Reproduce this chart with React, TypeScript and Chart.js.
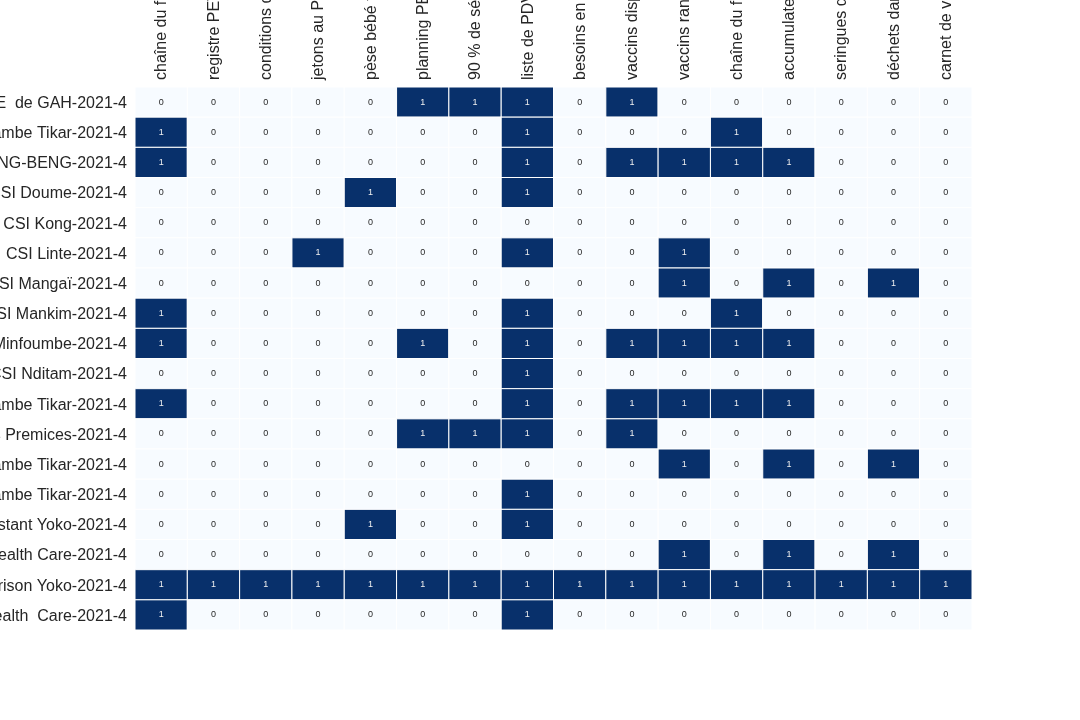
import React, { useEffect, useRef } from "react";
import { Chart, registerables } from "chart.js";

Chart.register(...registerables);

const columns: string[] = [
  "chaîne du froid fonctionnelle",
  "registre PEV à jour",
  "conditions de stockage respectées",
  "jetons au PEV disponibles",
  "pèse bébé fonctionnel",
  "planning PEV affiché",
  "90 % de séances réalisées",
  "liste de PDV disponible",
  "besoins en vaccins estimés",
  "vaccins disponibles",
  "vaccins rangés correctement",
  "chaîne du froid monitorée",
  "accumulateurs congelés",
  "seringues disponibles",
  "déchets dans boîtes de sécurité",
  "carnet de vaccination disponible",
];

const rows: string[] = [
  "CSI EPE  de GAH-2021-4",
  "CMA Ngambe Tikar-2021-4",
  "CSI BENG-BENG-2021-4",
  "CSI Doume-2021-4",
  "CSI Kong-2021-4",
  "CSI Linte-2021-4",
  "CSI Mangaï-2021-4",
  "CSI Mankim-2021-4",
  "CSI Minfoumbe-2021-4",
  "CSI Nditam-2021-4",
  "CSI Catholique Ngambe Tikar-2021-4",
  "CSI Les Premices-2021-4",
  "HD Ngambe Tikar-2021-4",
  "CSI Urbain Ngambe Tikar-2021-4",
  "CSI Protestant Yoko-2021-4",
  "CSI Health Care-2021-4",
  "Infirmerie Prison Yoko-2021-4",
  "CSI Health  Care-2021-4",
];

const values: number[][] = [
  [0, 0, 0, 0, 0, 1, 1, 1, 0, 1, 0, 0, 0, 0, 0, 0],
  [1, 0, 0, 0, 0, 0, 0, 1, 0, 0, 0, 1, 0, 0, 0, 0],
  [1, 0, 0, 0, 0, 0, 0, 1, 0, 1, 1, 1, 1, 0, 0, 0],
  [0, 0, 0, 0, 1, 0, 0, 1, 0, 0, 0, 0, 0, 0, 0, 0],
  [0, 0, 0, 0, 0, 0, 0, 0, 0, 0, 0, 0, 0, 0, 0, 0],
  [0, 0, 0, 1, 0, 0, 0, 1, 0, 0, 1, 0, 0, 0, 0, 0],
  [0, 0, 0, 0, 0, 0, 0, 0, 0, 0, 1, 0, 1, 0, 1, 0],
  [1, 0, 0, 0, 0, 0, 0, 1, 0, 0, 0, 1, 0, 0, 0, 0],
  [1, 0, 0, 0, 0, 1, 0, 1, 0, 1, 1, 1, 1, 0, 0, 0],
  [0, 0, 0, 0, 0, 0, 0, 1, 0, 0, 0, 0, 0, 0, 0, 0],
  [1, 0, 0, 0, 0, 0, 0, 1, 0, 1, 1, 1, 1, 0, 0, 0],
  [0, 0, 0, 0, 0, 1, 1, 1, 0, 1, 0, 0, 0, 0, 0, 0],
  [0, 0, 0, 0, 0, 0, 0, 0, 0, 0, 1, 0, 1, 0, 1, 0],
  [0, 0, 0, 0, 0, 0, 0, 1, 0, 0, 0, 0, 0, 0, 0, 0],
  [0, 0, 0, 0, 1, 0, 0, 1, 0, 0, 0, 0, 0, 0, 0, 0],
  [0, 0, 0, 0, 0, 0, 0, 0, 0, 0, 1, 0, 1, 0, 1, 0],
  [1, 1, 1, 1, 1, 1, 1, 1, 1, 1, 1, 1, 1, 1, 1, 1],
  [1, 0, 0, 0, 0, 0, 0, 1, 0, 0, 0, 0, 0, 0, 0, 0],
];

const LOW = "#f7fbff";
const HIGH = "#08306b";

const heatmapPlugin = {
  id: "heatmapCells",
  beforeDatasetsDraw(chart: any) {
    const ctx = chart.ctx;
    const xs = chart.scales.x;
    const ys = chart.scales.y;
    const cw = xs.width / columns.length;
    const ch = ys.height / rows.length;
    const meta = chart.getDatasetMeta(0);
    const data = chart.data.datasets[0].data as any[];
    ctx.save();
    meta.data.forEach((el: any, i: number) => {
      const v = data[i].v;
      const x = el.x - cw / 2;
      const y = el.y - ch / 2;
      ctx.fillStyle = v >= 1 ? HIGH : LOW;
      ctx.fillRect(x, y, cw, ch);
      ctx.strokeStyle = "#ffffff";
      ctx.lineWidth = 1;
      ctx.strokeRect(x, y, cw, ch);
    });
    ctx.font = "9px 'Liberation Sans', Arial, sans-serif";
    ctx.textAlign = "center";
    ctx.textBaseline = "middle";
    meta.data.forEach((el: any, i: number) => {
      const v = data[i].v;
      ctx.fillStyle = v >= 1 ? "#f0f0f0" : "#262626";
      ctx.fillText(String(v), el.x, el.y);
    });
    ctx.restore();
  },
};

export default function App() {
  const ref = useRef<HTMLCanvasElement | null>(null);
  useEffect(() => {
    if (!ref.current) return;
    const points: any[] = [];
    rows.forEach((r, ri) => {
      columns.forEach((c, ci) => {
        points.push({ x: c, y: r, v: values[ri][ci] });
      });
    });
    const chart = new Chart(ref.current, {
      type: "scatter",
      data: {
        datasets: [
          {
            data: points,
            pointRadius: 0,
            pointHoverRadius: 0,
          } as any,
        ],
      },
      options: {
        animation: false,
        responsive: false,
        layout: { padding: { top: 0, left: 0, right: 108, bottom: 90 } },
        plugins: {
          legend: { display: false },
          tooltip: { enabled: false },
        },
        scales: {
          x: {
            type: "category",
            labels: columns,
            position: "top",
            offset: true,
            grid: { display: false, drawTicks: false },
            border: { display: false },
            ticks: {
              autoSkip: false,
              minRotation: 90,
              maxRotation: 90,
              padding: 7,
              labelOffset: 20,
              color: "#262626",
              font: { family: "'Liberation Sans', Arial, sans-serif", size: 16 },
            },
            afterFit: (s: any) => {
              s.height = 87;
            },
          } as any,
          y: {
            type: "category",
            labels: rows,
            offset: true,
            grid: { display: false, drawTicks: false },
            border: { display: false },
            ticks: {
              autoSkip: false,
              padding: 8,
              labelOffset: 1.5,
              color: "#262626",
              font: { family: "'Liberation Sans', Arial, sans-serif", size: 16 },
            },
            afterFit: (s: any) => {
              s.width = 135;
            },
          } as any,
        },
      },
      plugins: [heatmapPlugin],
    });
    return () => chart.destroy();
  }, []);
  return (
    <div style={{ position: "absolute", left: 0, top: 0, width: 1080, height: 720, background: "#fff" }}>
      <canvas ref={ref} width={1080} height={720} style={{ display: "block" }} />
    </div>
  );
}
